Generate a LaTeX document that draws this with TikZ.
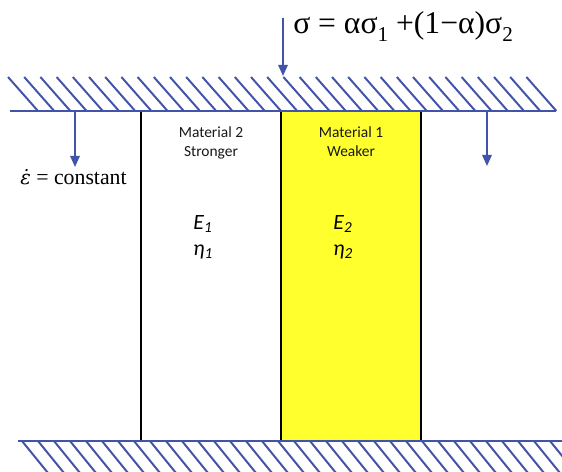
\documentclass[tikz,border=0pt]{standalone}
\usepackage{fontspec}
\setmainfont{Liberation Serif}
\newfontfamily\calibri{Carlito}
\newfontfamily\dejaserif{DejaVu Serif}
\usetikzlibrary{positioning,arrows.meta}
\definecolor{PlateBlue}{RGB}{66,84,170}
\definecolor{MatYellow}{RGB}{255,255,45}
\newcommand{\lowidx}[1]{\raisebox{-5pt}{\fontsize{15}{15}\selectfont #1}}

\begin{document}
\begin{tikzpicture}[
    x=0.025cm, y=-0.025cm,
    colbox/.style={rectangle, draw=black, line width=1.4pt, outer sep=0pt, inner sep=0pt,
                 minimum width=3.5cm, minimum height=8.25cm},
    matlabel/.style={font=\calibri\fontsize{11}{13.5}\selectfont, text=black!90, align=center, inner sep=0pt},
    proplabel/.style={font=\calibri\itshape\fontsize{15.5}{18.4}\selectfont, align=center, inner sep=0pt},
    plate/.style={PlateBlue, line width=1.6pt},
    hatch/.style={PlateBlue, line width=1.4pt},
    arrow/.style={-{Triangle[length=2.8mm, width=2.4mm]}, PlateBlue, line width=1.3pt}
]
    \useasboundingbox (0,0) rectangle (562,472);
    % the two material columns
    \node[colbox, fill=white] (mat2) at (211,276) {};
    \node[colbox, fill=MatYellow, right=0pt of mat2] (mat1) {};
    \node[matlabel, below=0.4cm of mat2.north] (lab2) {Material 2\\Stronger};
    \node[matlabel, below=0.4cm of mat1.north] (lab1) {Material 1\\Weaker};
    \node[proplabel, below=2.6cm of mat2.north, xshift=-0.2cm] (prop2) {E\textsubscript{1}\\η\textsubscript{1}};
    \node[proplabel, below=2.6cm of mat1.north, xshift=-0.2cm] (prop1) {E\textsubscript{2}\\η\textsubscript{2}};
    % top plate
    \coordinate (topL) at (10,111);
    \coordinate (topR) at (556,111);
    \foreach \i in {0,...,32}
        \draw[hatch] (8+16.2*\i,77) -- ++(30,34);
    \draw[plate] (topL) -- (topR);
    % bottom plate
    \coordinate (botL) at (18,441);
    \coordinate (botR) at (562,441);
    \begin{scope}
        \clip (0,441) rectangle (562,472);
        \foreach \i in {0,...,34}
            \draw[hatch] (22+16*\i,441) -- ++(26,32);
    \end{scope}
    \draw[plate] (botL) -- (botR);
    % load and strain rate
    \node[anchor=base west, inner sep=0pt, font=\fontsize{22.5}{24}\selectfont] (stress) at (293,34)
        {σ = ασ\lowidx{1} +(1−α)σ\lowidx{2}};
    \coordinate (loadtop) at (283,18);
    \coordinate (loadend) at (283,76);
    \draw[arrow] (loadtop) -- (loadend);
    \coordinate (leftst) at (75,111);
    \coordinate (leftend) at (75,167);
    \draw[arrow] (leftst) -- (leftend);
    \coordinate (rightst) at (487,111);
    \coordinate (rightend) at (487,166);
    \draw[arrow] (rightst) -- (rightend);
    \node[anchor=base west, inner sep=0pt, font=\fontsize{15.5}{18}\selectfont] (rate) at (20,185)
        {{\dejaserif\itshape\fontsize{14}{18}\selectfont ε^^^^0307} = constant};
\end{tikzpicture}
\end{document}
